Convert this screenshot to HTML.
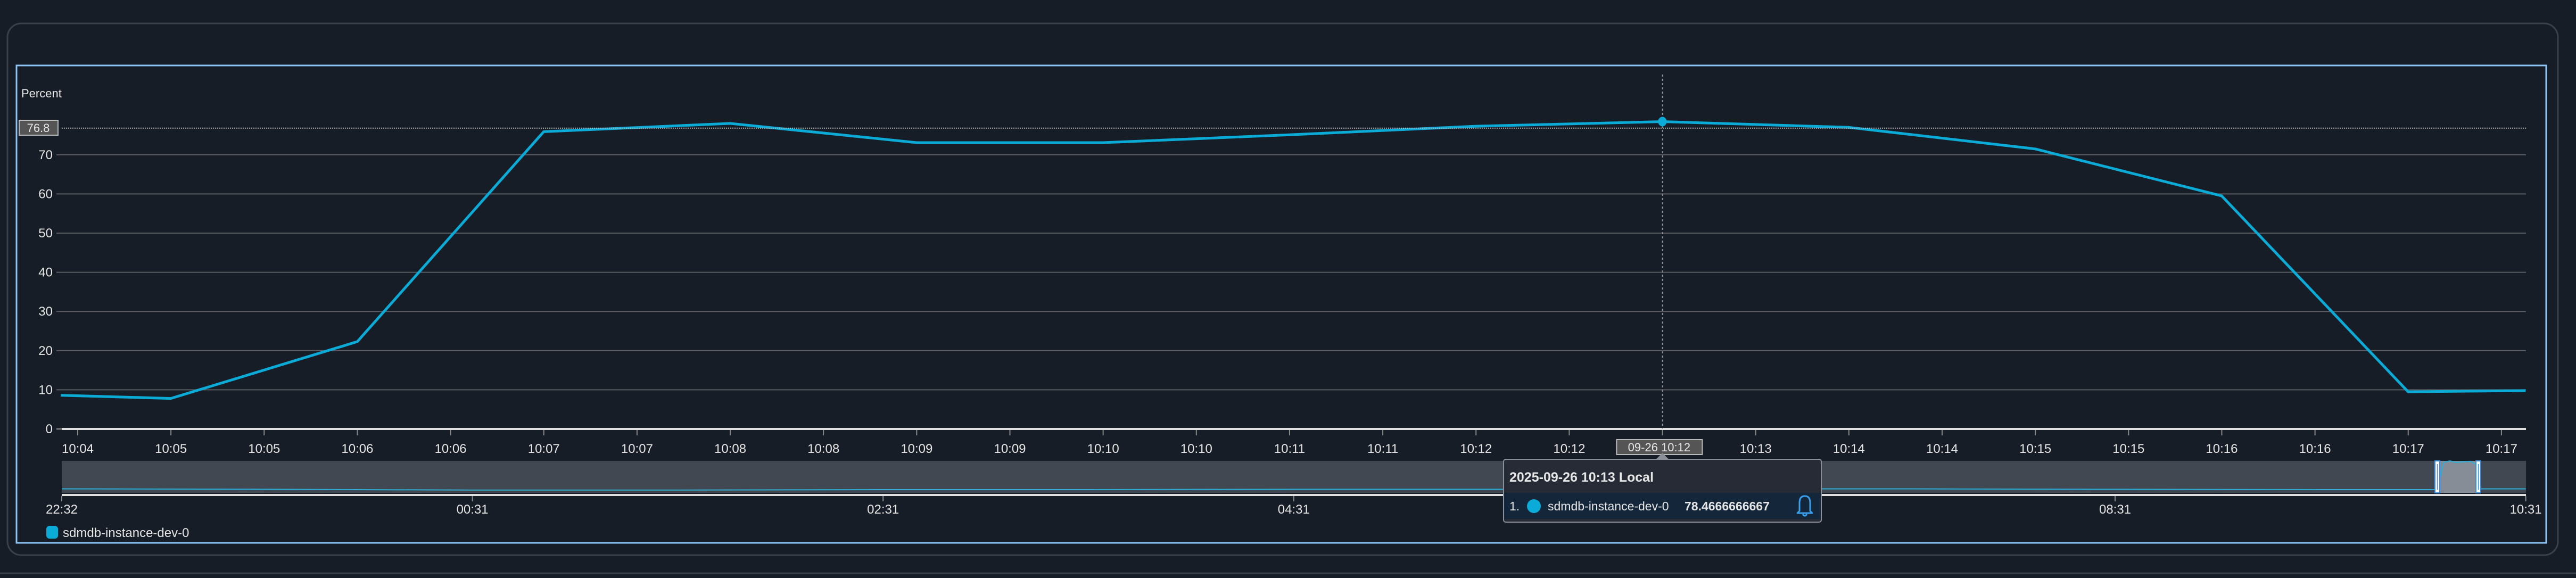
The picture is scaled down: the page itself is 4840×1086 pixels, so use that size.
<!DOCTYPE html>
<html><head><meta charset="utf-8">
<style>
html,body{margin:0;padding:0;background:#171d27;width:4840px;height:1086px;overflow:hidden;font-family:"Liberation Sans",sans-serif;}
svg{display:block}
</style></head>
<body>
<svg id="chart" width="4840" height="1086" viewBox="0 0 4840 1086" xmlns="http://www.w3.org/2000/svg" font-family="Liberation Sans, sans-serif">
  <rect x="0" y="0" width="4840" height="1086" fill="#171d27"/>
  <rect x="14" y="44" width="4792" height="999" rx="26" fill="none" stroke="#3b4049" stroke-width="3"/>
  <line x1="0" y1="1077" x2="4840" y2="1077" stroke="#3b4049" stroke-width="3"/>
  <rect x="31" y="123" width="4753" height="897" fill="none" stroke="#8ec5f7" stroke-width="3"/>
  <text x="40" y="183" font-size="22" fill="#e6e6e6">Percent</text>
  <g id="grid"></g>
  <g id="yticks"></g>
  <g id="xaxis"></g>
  <g id="series"></g>
  <g id="crosshair"></g>
  <g id="nav"></g>
  <g id="legend">
    <rect x="87" y="988" width="22" height="24" rx="6" fill="#0aabd6"/>
    <text x="118" y="1009" font-size="24" fill="#e6e6e6">sdmdb-instance-dev-0</text>
  </g>
  <g id="tooltip"></g>
</svg>
<script>
// ---- data ----
const yTickValues = [0, 10, 20, 30, 40, 50, 60, 70];
const xTickLabels = ["10:04","10:05","10:05","10:06","10:06","10:07","10:07","10:08","10:08","10:09","10:09","10:10","10:10","10:11","10:11","10:12","10:12","","10:13","10:14","10:14","10:15","10:15","10:16","10:16","10:17","10:17"];
const pointMinutes = [4.41, 5, 6, 7, 8, 9, 10, 11, 12, 13, 14, 15, 16, 17, 17.63];
const pointValues = [8.6, 7.8, 22.3, 75.9, 78.0, 73.1, 73.1, 75.1, 77.3, 78.4666666667, 77.0, 71.5, 59.5, 9.5, 9.8];
const navHours = [0, 1, 2, 3, 4, 5, 6, 7, 8, 9, 10, 11, 11.5, 11.57, 11.6, 11.63, 11.66, 11.7, 11.73, 11.76, 11.78, 12.0];
const navValues = [10, 9, 7, 7, 8, 8, 9, 9, 10, 10, 9, 8, 8, 8, 76, 80, 76, 78, 79, 70, 10, 10];
const navTickLabels = ["22:32","00:31","02:31","04:31","06:31","08:31","10:31"];
const crosshairValue = 76.8;
const hoverIndex = 9;

// ---- axes ----
const NS = "http://www.w3.org/2000/svg";
const y = v => 806 - v * 7.36;
const x = m => 321 + (m - 5) * 350.3;
const tickX = k => 146 + k * 175.15;
const navX = h => 116 + h * 385.8;
const navY = v => 926 - v * 0.75;
function mk(tag, attrs, parent) {
  const e = document.createElementNS(NS, tag);
  for (const k in attrs) e.setAttribute(k, attrs[k]);
  parent.appendChild(e);
  return e;
}
const grid = document.getElementById('grid');
const yt = document.getElementById('yticks');
yTickValues.forEach(v => {
  if (v > 0) {
    const l = mk('line', {x1:106, x2:4746, y1:y(v), y2:y(v), stroke:'#5a5d62', 'stroke-width':2}, grid);
    
    
  } else {
    const l = mk('line', {x1:106, x2:116, y1:y(v), y2:y(v), stroke:'#9a9a9a', 'stroke-width':2}, grid);
    
    
  }
  const t = mk('text', {x:99, y:y(v) + 8, 'text-anchor':'end', 'font-size':24, fill:'#e6e6e6'}, yt);
  t.textContent = v;
  
  
});
const xa = document.getElementById('xaxis');
const axl = mk('line', {x1:116, x2:4746, y1:806, y2:806, stroke:'#e0e0e0', 'stroke-width':4}, xa);


xTickLabels.forEach((lab, k) => {
  const tk = mk('line', {x1:tickX(k), x2:tickX(k), y1:808, y2:818, stroke:'#888', 'stroke-width':2}, xa);
  
  
  if (lab) {
    const t = mk('text', {x:tickX(k), y:851, 'text-anchor':'middle', 'font-size':24, fill:'#e6e6e6'}, xa);
    t.textContent = lab;
    
    
  }
});
// ---- series ----
const sg = document.getElementById('series');
const pts = pointMinutes.map((m, i) => x(m).toFixed(1) + ',' + y(pointValues[i]).toFixed(1)).join(' ');
const pl = mk('polyline', {points:pts, fill:'none', stroke:'#0aabd6', 'stroke-width':5, 'stroke-linejoin':'round'}, sg);


// ---- crosshair ----
const ch = document.getElementById('crosshair');
const hx = x(pointMinutes[hoverIndex]);
const cl = mk('line', {x1:116, x2:4746, y1:y(crosshairValue), y2:y(crosshairValue), stroke:'#bbbbbb', 'stroke-width':2, 'stroke-dasharray':'2,2'}, ch);


const cv = mk('line', {x1:hx, x2:hx, y1:140, y2:806, stroke:'#999', 'stroke-width':1.5, 'stroke-dasharray':'4,4'}, ch);


const ybox = mk('rect', {x:36, y:226, width:73, height:28, fill:'#555', stroke:'#bbb', 'stroke-width':2}, ch);


const ytx = mk('text', {x:72, y:248, 'text-anchor':'middle', 'font-size':22, fill:'#e6e6e6'}, ch);
ytx.textContent = crosshairValue;


const hd = mk('ellipse', {cx:hx, cy:y(pointValues[hoverIndex]), rx:8, ry:9, fill:'#0aabd6'}, ch);


const xbox = mk('rect', {x:hx - 86, y:826, width:161, height:28, fill:'#555', stroke:'#bbb', 'stroke-width':2}, ch);


const xtx = mk('text', {x:hx - 6, y:848, 'text-anchor':'middle', 'font-size':22, fill:'#e6e6e6'}, ch);
xtx.textContent = '09-26 10:12';


// ---- navigator ----
const nav = document.getElementById('nav');
const nbg = mk('rect', {x:116, y:866, width:4630, height:60, fill:'#424851'}, nav);


const npts = navHours.map((h, i) => navX(h).toFixed(1) + ',' + navY(navValues[i]).toFixed(1)).join(' ');
const nsel = mk('rect', {x:4575, y:866, width:85, height:60, fill:'#878d96'}, nav);


const npl = mk('polyline', {points:npts, fill:'none', stroke:'#2ab0d8', 'stroke-width':2}, nav);


[4575, 4652].forEach((hxp, i) => {
  const h = mk('rect', {x:hxp, y:866, width:9, height:60, fill:'#fff', stroke:'#3a8ee6', 'stroke-width':2}, nav);
  
  
  const g = mk('line', {x1:hxp + 4.5, x2:hxp + 4.5, y1:872, y2:920, stroke:'#3a8ee6', 'stroke-width':1.5}, nav);
  
  
});
const nax = mk('line', {x1:116, x2:4746, y1:930, y2:930, stroke:'#e0e0e0', 'stroke-width':4}, nav);


navTickLabels.forEach((lab, k) => {
  const tx = navX(k * 2);
  const tk = mk('line', {x1:tx, x2:tx, y1:932, y2:942, stroke:'#888', 'stroke-width':2}, nav);
  
  
  const t = mk('text', {x:tx, y:965, 'text-anchor':'middle', 'font-size':24, fill:'#e6e6e6'}, nav);
  t.textContent = lab;
  
  
});
// ---- tooltip ----
const tt = document.getElementById('tooltip');


const tbg = mk('rect', {x:2825, y:863, width:597, height:118, rx:4, fill:'#262b36', stroke:'#8a8f98', 'stroke-width':2}, tt);


const tar = mk('polygon', {points:(hx - 12) + ',863 ' + hx + ',851 ' + (hx + 12) + ',863', fill:'#8a8f98'}, tt);


const trow = mk('rect', {x:2826, y:926, width:595, height:49, fill:'#13263a'}, tt);


const tti = mk('text', {x:2836, y:905, 'font-size':25, 'font-weight':'bold', fill:'#e6e6e6'}, tt);
tti.textContent = '2025-09-26 10:13 Local';


const tn = mk('text', {x:2836, y:959, 'font-size':23, fill:'#e6e6e6'}, tt);
tn.textContent = '1.';


const tc = mk('circle', {cx:2882, cy:951, r:13, fill:'#0aabd6'}, tt);


const tname = mk('text', {x:2908, y:959, 'font-size':23, fill:'#e6e6e6'}, tt);
tname.textContent = 'sdmdb-instance-dev-0';


const tval = mk('text', {x:3165, y:959, 'font-size':23, 'font-weight':'bold', fill:'#e6e6e6'}, tt);
tval.textContent = pointValues[hoverIndex];


const bell = mk('path', {d:'M3381 960 L3381 945 Q3381 932 3391 932 Q3401 932 3401 945 L3401 960 L3405 964 L3377 964 Z M3387 966 Q3391 972 3395 966', fill:'none', stroke:'#3aa0ee', 'stroke-width':3, 'stroke-linejoin':'round'}, tt);


</script>
</body></html>
